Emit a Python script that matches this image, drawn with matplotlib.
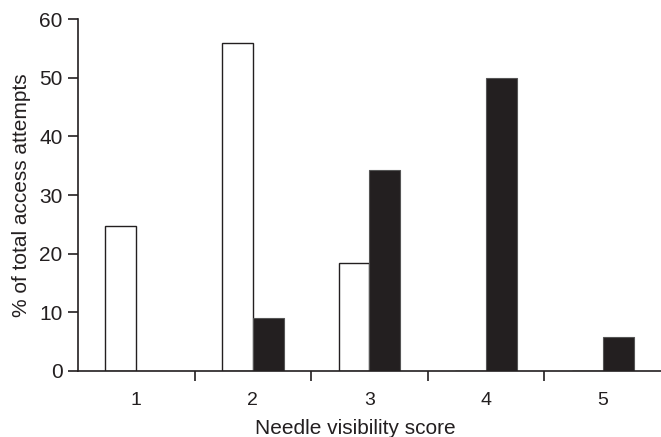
import matplotlib
matplotlib.use("Agg")
import matplotlib.pyplot as plt
import numpy as np

plt.rcParams['font.family'] = ['Liberation Sans', 'DejaVu Sans']

scores = [1, 2, 3, 4, 5]
white_vals = [24.7, 56.0, 18.4, 0.0, 0.0]
black_vals = [0.0, 9.0, 34.2, 50.0, 5.7]
yticks = [0, 10, 20, 30, 40, 50, 60]

fig = plt.figure(figsize=(6.61, 4.37), dpi=100)
ax = fig.add_axes([0.118, 0.1517, 0.882, 0.8041])

x = np.array(scores, dtype=float)
w = 0.265
axc = '#231f20'
ax.bar(x - w/2, white_vals, width=w, color='white', edgecolor=axc, linewidth=1.0, zorder=2)
ax.bar(x + w/2, black_vals, width=w, color=axc, edgecolor='#555555', linewidth=0.8, zorder=2)

ax.set_xlim(0.5, 5.5)
ax.set_ylim(0, 60)
ax.set_yticks(yticks)
ax.set_yticklabels([str(t) for t in yticks], fontsize=15, color=axc)

# category labels at centers, tick marks at boundaries
ax.set_xticks(x)
ax.set_xticklabels([str(s) for s in scores], fontsize=14, color=axc)
ax.tick_params(axis='x', which='major', length=0, pad=15)
ax.set_xticks(np.arange(1.5, 5.5, 1.0), minor=True)
ax.tick_params(axis='x', which='minor', length=7, width=1.2, color=axc, direction='out')
ax.tick_params(axis='y', length=7, width=1.2, color=axc, direction='out', pad=4)

for s in ['top', 'right']:
    ax.spines[s].set_visible(False)
for s in ['left', 'bottom']:
    ax.spines[s].set_color(axc)
    ax.spines[s].set_linewidth(1.2)

ax.set_ylabel('% of total access attempts', fontsize=15, color=axc, labelpad=6)
fig.text(0.537, 0.008, 'Needle visibility score', fontsize=15, color=axc, ha='center', va='baseline')

fig.savefig('out.png', dpi=100)
